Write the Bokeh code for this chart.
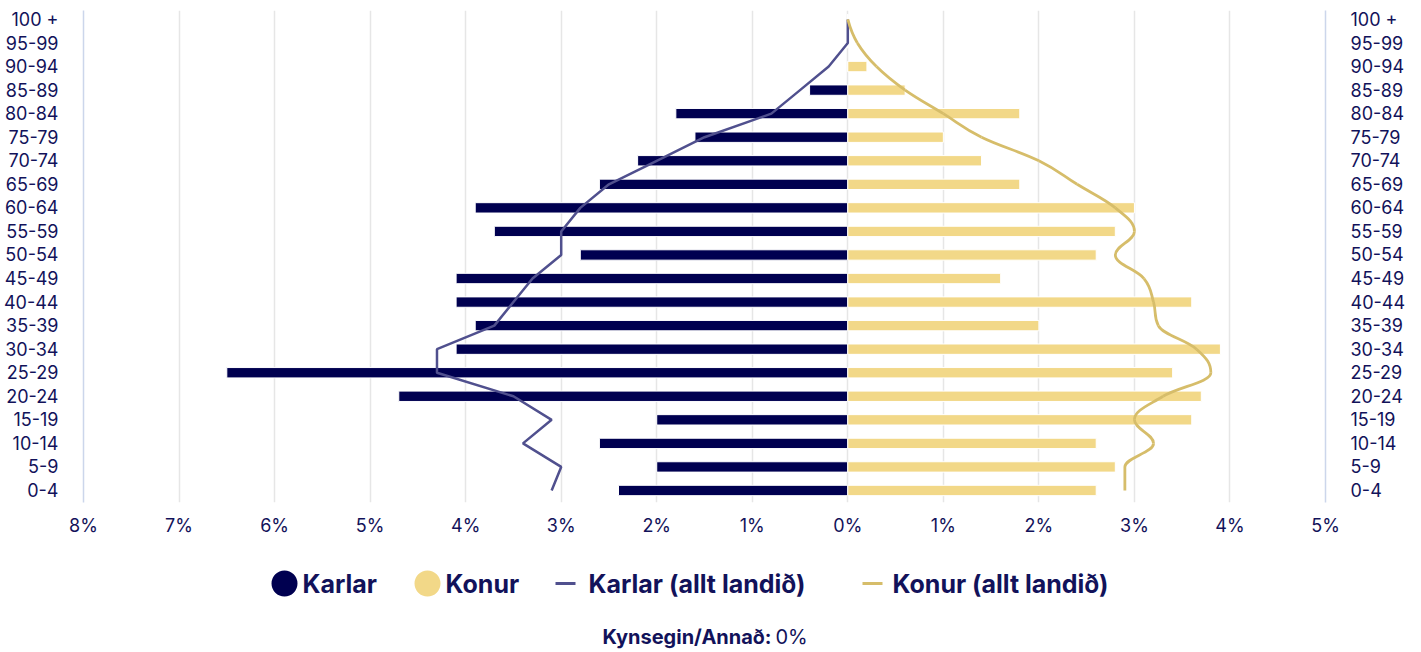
from bokeh.plotting import figure
from bokeh.models import ColumnDataSource, Range1d, FixedTicker, LinearAxis
from bokeh.layouts import column
from bokeh.core.properties import value
from bokeh.embed import file_html
from bokeh.resources import INLINE

# ---------------- data (top -> bottom) ----------------
age_groups = ["100 +", "95-99", "90-94", "85-89", "80-84", "75-79", "70-74", "65-69",
              "60-64", "55-59", "50-54", "45-49", "40-44", "35-39", "30-34", "25-29",
              "20-24", "15-19", "10-14", "5-9", "0-4"]
karlar = [0, 0, 0, 0.4, 1.8, 1.6, 2.2, 2.6, 3.9, 3.7, 2.8, 4.1, 4.1, 3.9, 4.1, 6.5,
          4.7, 2.0, 2.6, 2.0, 2.4]
konur = [0, 0, 0.2, 0.6, 1.8, 1.0, 1.4, 1.8, 3.0, 2.8, 2.6, 1.6, 3.6, 2.0, 3.9, 3.4,
         3.7, 3.6, 2.6, 2.8, 2.6]
karlar_land = [0, 0, 0.2, 0.5, 0.8, 1.5, 2.0, 2.5, 2.8, 3.0, 3.0, 3.3, 3.5, 3.7, 4.3, 4.3,
               3.5, 3.1, 3.4, 3.0, 3.1]
konur_land = [0, 0.1, 0.3, 0.6, 1.0, 1.4, 2.0, 2.4, 2.8, 3.0, 2.8, 3.1, 3.2, 3.25, 3.65, 3.8,
              3.3, 3.0, 3.2, 2.9, 2.9]
x_ticks = [-8, -7, -6, -5, -4, -3, -2, -1, 0, 1, 2, 3, 4, 5]
x_tick_labels = ["8%", "7%", "6%", "5%", "4%", "3%", "2%", "1%", "0%", "1%", "2%", "3%", "4%", "5%"]
legend_labels = ["Karlar", "Konur", "Karlar (allt landið)", "Konur (allt landið)"]
footer_bold = "Kynsegin/Annað:"
footer_value = "0%"

# ---------------- style ----------------
NAVY = "#000050"
GOLD = "#F2D888"
NAVY_LINE = "#50508E"
GOLD_LINE = "#D6BD6A"
TEXT = "#12125A"
FONT = "Inter"

n = len(age_groups)
ypos = [n - 1 - i for i in range(n)]

W = 1421
MH = 545
p = figure(width=W, height=MH, x_range=Range1d(-8, 5), y_range=Range1d(-0.51, n - 1 + 0.38),
           output_backend="svg", toolbar_location=None, min_border_left=82,
           min_border_right=96, min_border_top=10, min_border_bottom=43, frame_align=False)
p.outline_line_color = None
p.yaxis.visible = False
p.ygrid.visible = False

p.xgrid.ticker = FixedTicker(ticks=x_ticks)
p.xgrid.grid_line_color = "#e6e6e6"
p.xgrid.grid_line_width = 1.5

xa = p.xaxis[0]
xa.ticker = FixedTicker(ticks=x_ticks)
xa.major_label_overrides = {t: l for t, l in zip(x_ticks, x_tick_labels)}
xa.axis_line_color = None
xa.major_tick_line_color = None
xa.minor_tick_line_color = None
xa.major_label_text_font = FONT
xa.major_label_text_font_size = "18px"
xa.major_label_text_color = TEXT
xa.major_label_standoff = 6

for side in ("left", "right"):
    ax = LinearAxis(ticker=FixedTicker(ticks=ypos),
                    major_label_overrides={y: l for y, l in zip(ypos, age_groups)})
    ax.axis_line_color = "#ccd6eb"
    ax.axis_line_width = 1.5
    ax.major_tick_line_color = None
    ax.minor_tick_line_color = None
    ax.major_label_text_font = FONT
    ax.major_label_text_font_size = "18px"
    ax.major_label_text_color = TEXT
    ax.major_label_standoff = 19
    p.add_layout(ax, side)

src = ColumnDataSource(dict(y=ypos, km_left=[-v for v in karlar], zero=[0] * n,
                            kv_right=konur, kl=[-v for v in karlar_land]))
p.hbar(y="y", left="km_left", right="zero", height=0.44, source=src,
       fill_color=NAVY, line_color="white", line_width=1)
p.hbar(y="y", left="zero", right="kv_right", height=0.44, source=src,
       fill_color=GOLD, line_color="white", line_width=1)

# male national line (straight)
p.line(x="kl", y="y", source=src, line_color=NAVY_LINE, line_width=2.5)


# female national line (spline, Highcharts-like smoothing)
def spline_controls(cat, val):
    m = len(cat)
    lc = [(c, v) for c, v in zip(cat, val)]
    rc = list(lc)
    sm, den = 1.5, 2.5
    for i in range(1, m - 1):
        px, py = cat[i], val[i]
        lx, ly = cat[i - 1], val[i - 1]
        nx, ny = cat[i + 1], val[i + 1]
        lcx = (sm * px + lx) / den
        lcy = (sm * py + ly) / den
        rcx = (sm * px + nx) / den
        rcy = (sm * py + ny) / den
        if rcx != lcx:
            corr = ((rcy - lcy) * (rcx - px)) / (rcx - lcx) + py - rcy
            lcy += corr
            rcy += corr
        if lcy > ly and lcy > py:
            lcy = max(ly, py)
            rcy = 2 * py - lcy
        elif lcy < ly and lcy < py:
            lcy = min(ly, py)
            rcy = 2 * py - lcy
        if rcy > ny and rcy > py:
            rcy = max(ny, py)
            lcy = 2 * py - rcy
        elif rcy < ny and rcy < py:
            rcy = min(ny, py)
            lcy = 2 * py - rcy
        lc[i] = (lcx, lcy)
        rc[i] = (rcx, rcy)
    return lc, rc


lc, rc = spline_controls(ypos, konur_land)
bz = dict(x0=[], y0=[], x1=[], y1=[], cx0=[], cy0=[], cx1=[], cy1=[])
for i in range(1, n):
    bz["x0"].append(konur_land[i - 1]); bz["y0"].append(ypos[i - 1])
    bz["x1"].append(konur_land[i]); bz["y1"].append(ypos[i])
    bz["cx0"].append(rc[i - 1][1]); bz["cy0"].append(rc[i - 1][0])
    bz["cx1"].append(lc[i][1]); bz["cy1"].append(lc[i][0])
p.bezier(x0="x0", y0="y0", x1="x1", y1="y1", cx0="cx0", cy0="cy0", cx1="cx1", cy1="cy1",
         source=ColumnDataSource(bz), line_color=GOLD_LINE, line_width=2.8)

# ---------------- legend + footer figure ----------------
LH = 652 - MH
lg = figure(width=W, height=LH, x_range=Range1d(0, W), y_range=Range1d(0, LH),
            output_backend="svg", toolbar_location=None, min_border=0, frame_align=False)
lg.axis.visible = False
lg.grid.visible = False
lg.outline_line_color = None

ly = LH - 38
lg.scatter(x=[284, 427], y=[ly, ly], size=26, marker="circle",
           fill_color=[NAVY, GOLD], line_color=None)
lg.segment(x0=[555, 862], y0=[ly, ly], x1=[575, 882], y1=[ly, ly],
           line_color=[NAVY_LINE, GOLD_LINE], line_width=3)
lg.text(x=[302, 445, 588, 892], y=[ly] * 4, text=legend_labels,
        text_font=value(FONT), text_font_size="25px", text_font_style="bold",
        text_color=TEXT, text_baseline="middle", text_align="left")
fy = LH - 91
lg.text(x=[771], y=[fy], text=[footer_bold], text_font=value(FONT), text_font_size="20px",
        text_font_style="bold", text_color=TEXT, text_baseline="middle", text_align="right")
lg.text(x=[775], y=[fy], text=[footer_value], text_font=value(FONT), text_font_size="20px",
        text_color=TEXT, text_baseline="middle", text_align="left")

layout = column(p, lg, spacing=0)
open("out.html", "w").write(file_html(layout, INLINE))
